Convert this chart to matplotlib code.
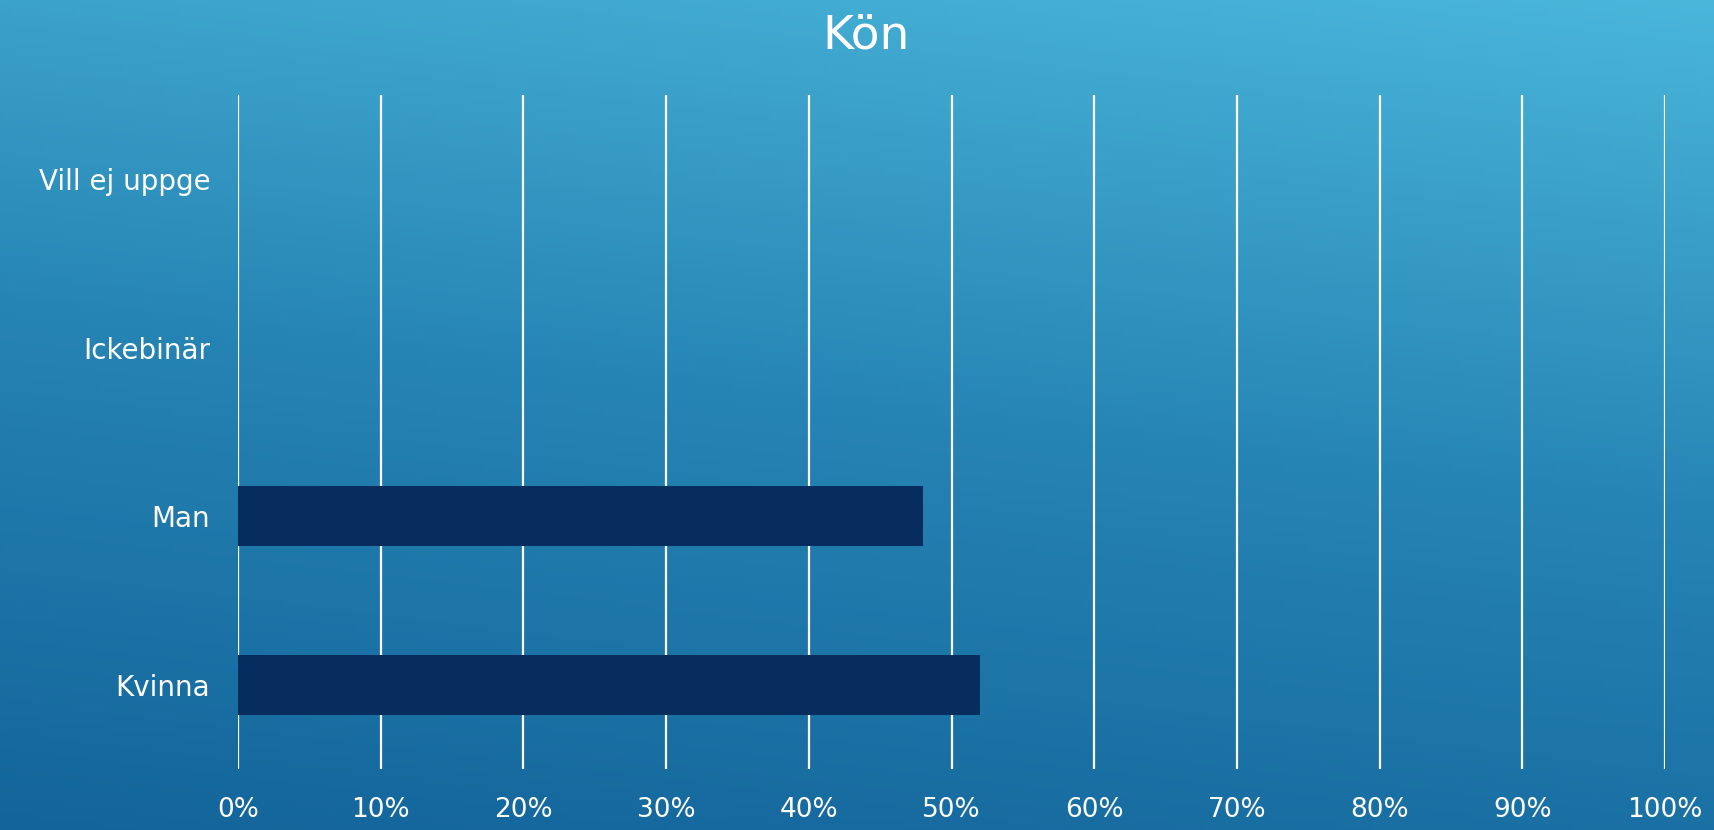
import matplotlib
matplotlib.use("Agg")
import matplotlib.pyplot as plt
import numpy as np
from matplotlib.colors import LinearSegmentedColormap

# data
categories = ["Kvinna", "Man", "Ickebinär", "Vill ej uppge"]
values = [52, 48, 0, 0]
ticks = list(range(0, 101, 10))
tick_labels = [f"{t}%" for t in ticks]
title = "Kön"

plt.rcParams["font.family"] = ["DejaVu Sans"]

fig = plt.figure(figsize=(17.14, 8.30), dpi=100)

# background gradient (dark bottom-left, light top-right)
bg = fig.add_axes([0, 0, 1, 1], zorder=-10)
yy, xx = np.mgrid[0:1:200j, 0:1:400j]
grad = 0.8 * yy + 0.2 * xx
cmap = LinearSegmentedColormap.from_list("bg", ["#13649a", "#2684b4", "#4ab6da"])
bg.imshow(grad, cmap=cmap, origin="lower", extent=[0, 1, 0, 1], aspect="auto")
bg.axis("off")

ax = fig.add_axes([0.1389, 0.0735, 0.8325, 0.812])
ax.patch.set_alpha(0)
y = np.arange(len(categories))
ax.barh(y, values, height=0.355, color="#062d5e", linewidth=0, zorder=3)

ax.set_xlim(0, 100)
ax.set_ylim(-0.5, len(categories) - 0.5)
ax.set_xticks(ticks)
ax.set_xticklabels(tick_labels)
ax.set_yticks(y)
ax.set_yticklabels(categories)
ax.tick_params(axis="both", length=0, colors="white")
ax.tick_params(axis="x", pad=20, labelsize=19)
ax.tick_params(axis="y", pad=20, labelsize=20)

ax.grid(axis="x", color="white", linewidth=1.6, zorder=1)
ax.set_axisbelow(True)
for s in ax.spines.values():
    s.set_visible(False)

fig.text(0.505, 0.957, title, ha="center", va="center", color="white", fontsize=34)

fig.savefig("out.png", dpi=100)
